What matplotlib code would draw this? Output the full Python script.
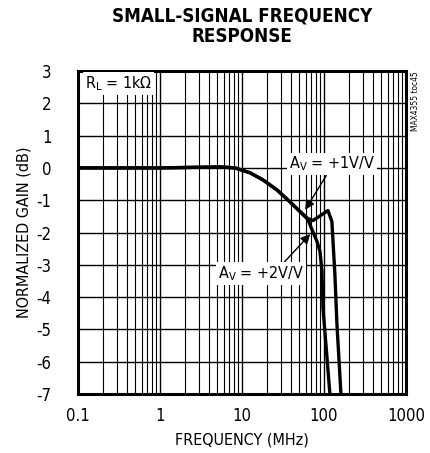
import numpy as np
import matplotlib
matplotlib.use('Agg')
import matplotlib.pyplot as plt
from matplotlib.ticker import LogLocator, FixedLocator, NullFormatter

plt.rcParams['font.family'] = ['DejaVu Sans']
plt.rcParams['font.stretch'] = 'condensed'
plt.rcParams['mathtext.fontset'] = 'custom'
plt.rcParams['mathtext.rm'] = 'DejaVu Sans'

# normalized gain vs frequency (MHz), RL = 1k
freq_av1 = [0.1, 1.0, 5.4, 8.2, 12.5, 18.0, 26.7, 38.5, 50.9, 63.8, 73.5, 112.0,
            125.0, 129.0, 136.0, 144.0, 161.0]
gain_av1 = [0.0, 0.0, 0.03, 0.0, -0.15, -0.37, -0.68, -1.05, -1.35, -1.57, -1.63, -1.32,
            -1.66, -2.28, -3.29, -4.83, -6.98]

freq_av2 = [0.1, 1.0, 5.4, 8.2, 12.5, 18.0, 26.7, 38.5, 50.9, 63.8, 71.4, 82.3,
            89.4, 94.6, 97.3, 109.0, 118.0]
gain_av2 = [0.0, 0.0, 0.03, 0.0, -0.15, -0.37, -0.68, -1.05, -1.35, -1.60, -1.91, -2.28,
            -2.58, -3.20, -4.34, -5.88, -6.98]

xticks = [0.1, 1, 10, 100, 1000]
xtick_labels = ['0.1', '1', '10', '100', '1000']
yticks = list(range(-7, 4))

fig = plt.figure(figsize=(4.3, 4.53), dpi=100)
ax = fig.add_axes([0.1814, 0.1302, 0.7626, 0.7131])

ax.plot(freq_av1, gain_av1, color='black', lw=2.4)
ax.plot(freq_av2, gain_av2, color='black', lw=2.4)

ax.set_xscale('log')
ax.set_xlim(0.1, 1000)
ax.set_ylim(-7, 3)
ax.xaxis.set_major_locator(FixedLocator(xticks))
ax.set_xticklabels(xtick_labels)
ax.xaxis.set_minor_locator(LogLocator(base=10, subs=np.arange(2, 10)))
ax.xaxis.set_minor_formatter(NullFormatter())
ax.set_yticks(yticks)
ax.set_yticklabels([str(v) for v in yticks], ha='right')

ax.grid(which='major', color='black', lw=1.0)
ax.grid(which='minor', axis='x', color='black', lw=0.8)
ax.tick_params(which='both', length=0)
ax.tick_params(axis='x', pad=9, labelsize=12)
ax.tick_params(axis='y', pad=19, labelsize=12)
for s in ax.spines.values():
    s.set_linewidth(2.2)

ax.set_xlabel('FREQUENCY (MHz)', fontsize=11.5, labelpad=6)
ax.set_ylabel('NORMALIZED GAIN (dB)', fontsize=11.5, labelpad=4)

fig.text(0.563, 0.985, 'SMALL-SIGNAL FREQUENCY\nRESPONSE', ha='center', va='top',
         fontsize=13.5, fontweight='bold', linespacing=1.05)

ax.text(0.122, 2.6, r'R$\mathregular{_L}$ = 1kΩ', fontsize=11.5, ha='left', va='center',
        bbox=dict(facecolor='white', edgecolor='none', pad=1.5))

ax.annotate(r'A$\mathregular{_V}$ = +1V/V', xy=(59, -1.30), xytext=(125, 0.12),
            fontsize=11.5, ha='center', va='center',
            bbox=dict(facecolor='white', edgecolor='none', pad=1.5),
            arrowprops=dict(arrowstyle='-|>', color='black', lw=1.0, mutation_scale=14,
                            shrinkA=0, shrinkB=0, relpos=(0.45, 0.0)))
ax.annotate(r'A$\mathregular{_V}$ = +2V/V', xy=(68, -2.05), xytext=(17, -3.27),
            fontsize=11.5, ha='center', va='center',
            bbox=dict(facecolor='white', edgecolor='none', pad=1.5),
            arrowprops=dict(arrowstyle='-|>', color='black', lw=1.0, mutation_scale=14,
                            shrinkA=0, shrinkB=0, relpos=(0.75, 1.0)))

fig.text(0.956, 0.843, 'MAX4355 toc45', rotation=90, ha='left', va='top', fontsize=6)

fig.savefig('out.png', dpi=100)
